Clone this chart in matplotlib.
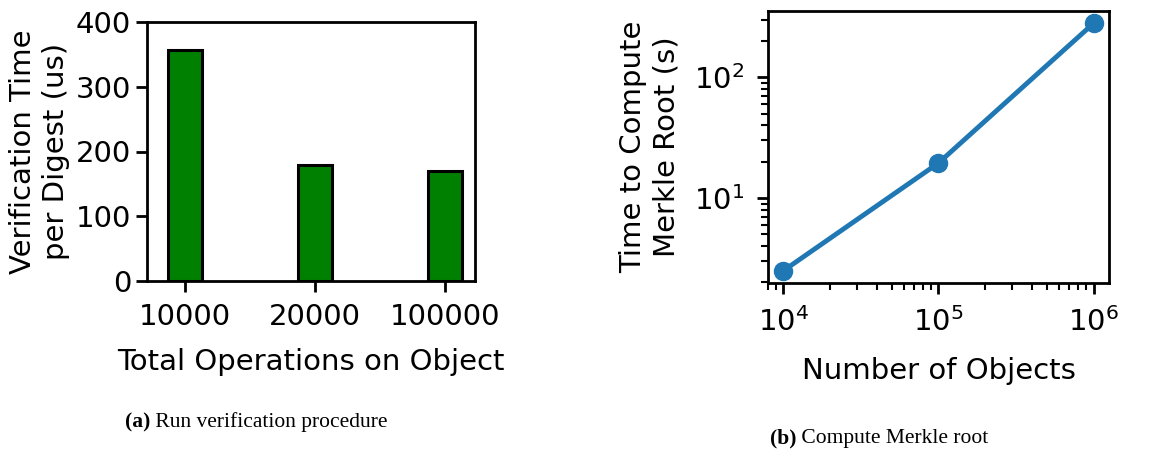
import numpy as np
import matplotlib
matplotlib.use("Agg")
import matplotlib.pyplot as plt

# (a) verification time per digest
ops_labels = ["10000", "20000", "100000"]
verify_us = [357, 179, 170]

# (b) merkle root compute time
n_objects = [1e4, 1e5, 1e6]
merkle_s = [2.5, 19.5, 280]

plt.rcParams["font.family"] = "DejaVu Sans"
plt.rcParams["font.size"] = 21

fig = plt.figure(figsize=(11.72, 4.57), dpi=100)

# left panel
ax1 = fig.add_axes([147 / 1172, 1 - 281 / 457, 328 / 1172, 259 / 457])
x = np.arange(len(ops_labels))
ax1.bar(x, verify_us, width=0.26, color="green", edgecolor="black", linewidth=2.2)
ax1.set_xticks(x)
ax1.set_xticklabels(ops_labels)
ax1.set_xlim(-0.29, 2.23)
ax1.set_ylim(0, 400)
ax1.set_yticks([0, 100, 200, 300, 400])
ax1.set_xlabel("Total Operations on Object", labelpad=12)
ax1.set_ylabel("Verification Time\nper Digest (us)", linespacing=1.25, labelpad=4)
for s in ax1.spines.values():
    s.set_linewidth(2)
ax1.tick_params(width=2, length=8)
ax1.tick_params(axis="x", pad=8)

# right panel
ax2 = fig.add_axes([768 / 1172, 1 - 283 / 457, 341 / 1172, 272 / 457])
ax2.loglog(n_objects, merkle_s, "o-", color="#1f77b4", linewidth=3.5, markersize=13)
ax2.set_xlabel("Number of Objects", labelpad=15)
ax2.set_ylabel("Time to Compute\nMerkle Root (s)", linespacing=1.25, labelpad=10)
for s in ax2.spines.values():
    s.set_linewidth(2)
ax2.tick_params(which="major", width=2, length=8)
ax2.tick_params(which="minor", width=1.5, length=5)
ax2.tick_params(axis="x", which="major", pad=9)
ax2.tick_params(axis="y", which="major", pad=9)


def caption(cx, cy, tag, rest):
    # bold tag followed by regular text, centred together at (cx, cy) in pixels
    r = fig.canvas.get_renderer()
    t1 = fig.text(0, 0, tag, family="Liberation Serif", weight="bold", fontsize=15.5, va="center")
    t2 = fig.text(0, 0, " " + rest, family="Liberation Serif", fontsize=15.5, va="center")
    w1 = t1.get_window_extent(r).width
    w2 = t2.get_window_extent(r).width
    x0 = cx - (w1 + w2) / 2
    t1.set_position((x0 / 1172, 1 - cy / 457))
    t2.set_position(((x0 + w1) / 1172, 1 - cy / 457))


caption(256, 422, "(a)", "Run verification procedure")
caption(879, 438, "(b)", "Compute Merkle root")

fig.savefig("out.png", dpi=100)
